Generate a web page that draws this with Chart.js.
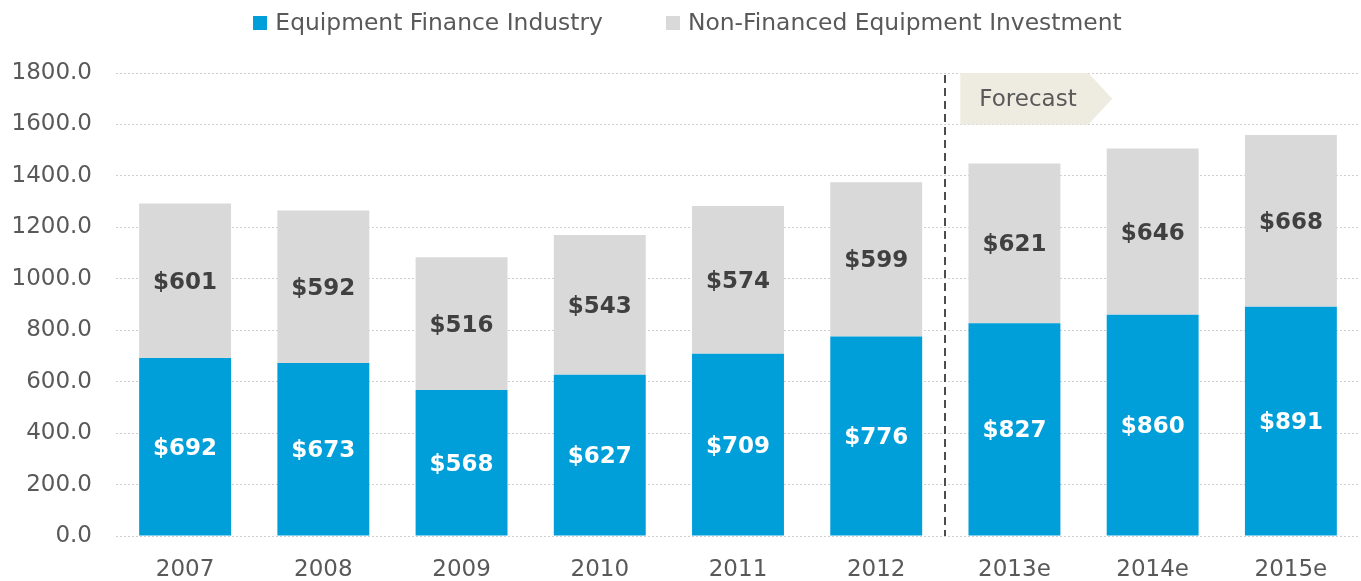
<!DOCTYPE html>
<html>
<head>
<meta charset="utf-8">
<script src="https://cdn.jsdelivr.net/npm/chart.js@4/dist/chart.umd.min.js"></script>
<style>
html,body{margin:0;padding:0;background:#fff;}
#wrap{width:1361px;height:581px;position:relative;}
</style>
</head>
<body>
<div id="wrap"><canvas id="c" width="1361" height="581"></canvas></div>
<script>
const categories = ["2007","2008","2009","2010","2011","2012","2013e","2014e","2015e"];
const financeIndustry = [692,673,568,627,709,776,827,860,891];
const nonFinanced = [601,592,516,543,574,599,621,646,668];
const yTicks = [0,200,400,600,800,1000,1200,1400,1600,1800];
const forecastStartIndex = 6;
const forecastLabel = "Forecast";

const FONT = "'DejaVu Sans', Verdana, sans-serif";
const TEXT = '#595959';

const overlayPlugin = {
  id: 'overlay',
  afterDraw(chart) {
    const ctx = chart.ctx;
    ctx.save();
    // legend
    ctx.font = "23.4px " + FONT;
    ctx.textBaseline = 'middle';
    ctx.textAlign = 'left';
    const items = chart.data.datasets.map(d => ({ text: d.label, color: d.backgroundColor }));
    const box = 14, gapBT = 8, gapItems = 63;
    let total = 0;
    items.forEach((it, i) => { it.w = ctx.measureText(it.text).width; total += box + gapBT + it.w + (i ? gapItems : 0); });
    let lx = 687.5 - total / 2;
    const ly = 23;
    items.forEach((it, i) => {
      if (i) lx += gapItems;
      ctx.fillStyle = it.color;
      ctx.fillRect(Math.round(lx), ly - box / 2, box, box);
      lx += box + gapBT;
      ctx.fillStyle = TEXT;
      ctx.fillText(it.text, lx, ly + 1);
      lx += it.w;
    });
    ctx.restore();
  },
  afterDatasetsDraw(chart) {
    const ctx = chart.ctx;
    const x = chart.scales.x, y = chart.scales.y;
    ctx.save();
    ctx.font = "bold 23px " + FONT;
    ctx.textAlign = 'center';
    ctx.textBaseline = 'middle';
    chart.data.datasets.forEach((ds, di) => {
      const meta = chart.getDatasetMeta(di);
      meta.data.forEach((bar, i) => {
        const cy = (bar.y + bar.base) / 2;
        ctx.fillStyle = di === 0 ? '#ffffff' : '#404040';
        ctx.fillText('$' + ds.data[i], bar.x, cy + 2);
      });
    });
    // dashed divider
    const xm = (x.getPixelForValue(forecastStartIndex - 1) + x.getPixelForValue(forecastStartIndex)) / 2;
    ctx.strokeStyle = '#4d4d4d';
    ctx.lineWidth = 2;
    ctx.setLineDash([8, 5]);
    ctx.beginPath();
    ctx.moveTo(Math.round(xm), y.getPixelForValue(1800) + 2);
    ctx.lineTo(Math.round(xm), y.getPixelForValue(0));
    ctx.stroke();
    ctx.setLineDash([]);
    // forecast arrow box
    const top = y.getPixelForValue(1800), bot = y.getPixelForValue(1600);
    const left = xm + 15, right = xm + 143, tip = xm + 167;
    ctx.fillStyle = '#eeece1';
    ctx.beginPath();
    ctx.moveTo(left, top);
    ctx.lineTo(right, top);
    ctx.lineTo(tip, (top + bot) / 2);
    ctx.lineTo(right, bot);
    ctx.lineTo(left, bot);
    ctx.closePath();
    ctx.fill();
    ctx.fillStyle = TEXT;
    ctx.font = "23px " + FONT;
    ctx.textAlign = 'left';
    ctx.fillText(forecastLabel, left + 19, (top + bot) / 2 + 1);
    ctx.restore();
  }
};

new Chart(document.getElementById('c'), {
  type: 'bar',
  data: {
    labels: categories,
    datasets: [
      { label: 'Equipment Finance Industry', data: financeIndustry, backgroundColor: '#009fda', barPercentage: 0.665, categoryPercentage: 1.0 },
      { label: 'Non-Financed Equipment Investment', data: nonFinanced, backgroundColor: '#d9d9d9', barPercentage: 0.665, categoryPercentage: 1.0 }
    ]
  },
  options: {
    responsive: false,
    animation: false,
    layout: { padding: { left: 0, right: 1, top: 73, bottom: 0 } },
    plugins: {
      legend: { display: false },
      tooltip: { enabled: false }
    },
    scales: {
      x: {
        stacked: true,
        grid: { display: false, drawTicks: false },
        border: { display: false },
        afterFit(axis) { axis.height = 45; },
        ticks: { color: TEXT, font: { family: FONT, size: 23 }, padding: 20 }
      },
      y: {
        stacked: true,
        min: 0, max: 1800,
        afterBuildTicks(axis) { axis.ticks = yTicks.map(v => ({ value: v })); },
        afterFit(axis) { axis.width = 116; },
        grid: { color: '#cfcfcf', drawTicks: false, lineWidth: 1 },
        border: { display: false, dash: [2, 2] },
        ticks: { color: TEXT, font: { family: FONT, size: 23 }, padding: 24,
          callback: v => Number(v).toFixed(1) }
      }
    }
  },
  plugins: [overlayPlugin]
});
</script>
</body>
</html>
